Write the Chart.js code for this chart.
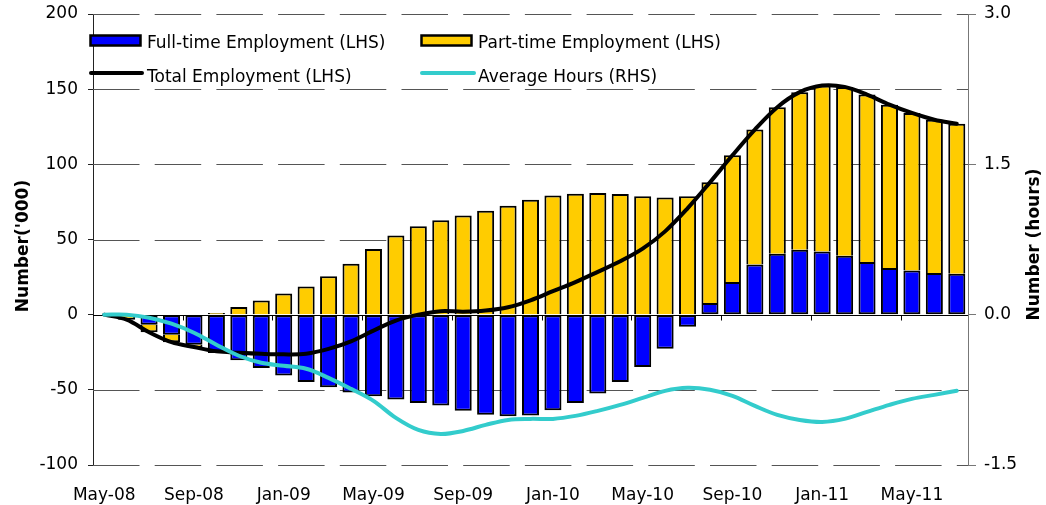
<!DOCTYPE html>
<html><head><meta charset="utf-8">
<script src="https://cdn.jsdelivr.net/npm/chart.js@4.4.1/dist/chart.umd.min.js"></script>
<style>html,body{margin:0;padding:0;background:#fff;} canvas{display:block;}</style>
</head><body>
<canvas id="c" width="1046" height="505"></canvas>
<script>
const months = ['May-08','Jun-08','Jul-08','Aug-08','Sep-08','Oct-08','Nov-08','Dec-08','Jan-09','Feb-09','Mar-09','Apr-09','May-09','Jun-09','Jul-09','Aug-09','Sep-09','Oct-09','Nov-09','Dec-09','Jan-10','Feb-10','Mar-10','Apr-10','May-10','Jun-10','Jul-10','Aug-10','Sep-10','Oct-10','Nov-10','Dec-10','Jan-11','Feb-11','Mar-11','Apr-11','May-11','Jun-11','Jul-11'];
const fullTime = [0, 0, -6.7, -13.3, -20, -25.5, -30.4, -35.5, -40.4, -44.8, -48.3, -51.7, -54.3, -56.5, -58.8, -60.5, -63.9, -66.5, -67.6, -67, -63.6, -58.8, -52.5, -44.8, -34.8, -22.6, -8, 7.8, 21.7, 33.3, 40.6, 43.2, 42.1, 39.2, 35, 31, 29.3, 27.7, 27.3];
const partTime = [0, -3.3, -5, -5, -1.5, 1.1, 5.1, 9.5, 14, 18.8, 25.5, 33.9, 43.7, 52.6, 58.8, 62.8, 65.9, 69.2, 72.5, 76.5, 79.2, 80.5, 81, 80.3, 78.7, 78, 78.7, 80.2, 84.3, 89.8, 97.4, 104.8, 110.3, 112.3, 111.4, 108.7, 104.9, 102, 99.7];
const totalEmp = [0, -3.3, -11.7, -18.3, -21.5, -24.4, -25.3, -26, -26.4, -26, -22.8, -17.8, -10.6, -3.9, 0, 2.3, 2, 2.7, 4.9, 9.5, 15.6, 21.7, 28.5, 35.5, 43.9, 55.4, 70.7, 88, 106, 123.1, 138, 148, 152.4, 151.5, 146.4, 139.7, 134.2, 129.7, 127];
const avgHours = [0, 0, -0.03, -0.09, -0.18, -0.30, -0.41, -0.48, -0.51, -0.54, -0.63, -0.74, -0.86, -1.03, -1.15, -1.19, -1.16, -1.10, -1.05, -1.04, -1.04, -1.01, -0.96, -0.90, -0.83, -0.76, -0.73, -0.75, -0.81, -0.91, -1.00, -1.05, -1.07, -1.04, -0.97, -0.90, -0.84, -0.80, -0.76];
const leftTicks = [-100, -50, 0, 50, 100, 150, 200];
const rightTicks = [-1.5, 0, 1.5, 3.0];
const seriesNames = ['Full-time Employment (LHS)', 'Part-time Employment (LHS)', 'Total Employment (LHS)', 'Average Hours (RHS)'];
const leftTitle = "Number('000)";
const rightTitle = 'Number (hours)';
const xLabelEvery = 4;

const FONT = '"DejaVu Sans", Verdana, sans-serif';
const BLUE = '#0000FF', YELLOW = '#FFCC00', CYAN = '#33CCCC';

const overlay = {
  id: 'overlay',
  beforeDatasetsDraw(chart) {
    const { ctx, chartArea: a, scales: { x, y } } = chart;
    ctx.save();
    ctx.lineWidth = 1;
    leftTicks.forEach(v => {
      const py = Math.round(y.getPixelForValue(v)) + 0.5;
      ctx.beginPath();
      if (v === 0) { ctx.setLineDash([]); ctx.strokeStyle = '#000'; }
      else { ctx.setLineDash([46.5, 15.2]); ctx.strokeStyle = '#555'; }
      ctx.moveTo(a.left, py); ctx.lineTo(a.right, py); ctx.stroke();
    });
    ctx.setLineDash([]);
    ctx.strokeStyle = '#000';
    const y0 = Math.round(y.getPixelForValue(0)) + 0.5;
    const w = (a.right - a.left) / months.length;
    months.forEach((m, i) => {
      if (i % xLabelEvery === 0 && i > 0) {
        const px = Math.round(x.getPixelForValue(i) - w / 2) + 0.5;
        ctx.beginPath(); ctx.moveTo(px, y0); ctx.lineTo(px, y0 + 5); ctx.stroke();
      }
    });
    ctx.restore();
  },
  afterDraw(chart) {
    const { ctx } = chart;
    const ds = chart.data.datasets;
    ctx.save();
    ctx.font = '17px ' + FONT;
    ctx.textBaseline = 'alphabetic';
    ctx.textAlign = 'left';
    const box = (bx, col) => {
      ctx.fillStyle = col; ctx.fillRect(bx, 35.5, 50, 10);
      ctx.lineWidth = 2.5; ctx.strokeStyle = '#000'; ctx.strokeRect(bx, 35.5, 50, 10);
    };
    const line = (x1, x2, col) => {
      ctx.beginPath(); ctx.lineCap = 'round'; ctx.lineWidth = 4; ctx.strokeStyle = col;
      ctx.moveTo(x1, 73); ctx.lineTo(x2, 73); ctx.stroke();
    };
    box(90.5, ds[0].backgroundColor);
    box(421.5, ds[1].backgroundColor);
    line(91, 142, ds[2].borderColor);
    line(422, 474, ds[3].borderColor);
    ctx.fillStyle = '#000';
    ctx.fillText(ds[0].label, 147, 47.5);
    ctx.fillText(ds[1].label, 478, 47.5);
    ctx.fillText(ds[2].label, 147, 81.5);
    ctx.fillText(ds[3].label, 478, 81.5);
    ctx.font = 'bold 17px ' + FONT;
    ctx.textAlign = 'center';
    ctx.textBaseline = 'middle';
    ctx.save(); ctx.translate(24, 246); ctx.rotate(-Math.PI / 2); ctx.fillText(leftTitle, 0, 0); ctx.restore();
    ctx.save(); ctx.translate(1035, 244.5); ctx.rotate(-Math.PI / 2); ctx.fillText(rightTitle, 0, 0); ctx.restore();
    ctx.restore();
  }
};

new Chart(document.getElementById('c'), {
  data: {
    labels: months,
    datasets: [
      { type: 'bar', label: seriesNames[0], data: fullTime, yAxisID: 'y', stack: 's', order: 2,
        backgroundColor: BLUE, borderColor: '#000', borderWidth: 2, borderSkipped: false,
        barPercentage: 0.76, categoryPercentage: 1.0 },
      { type: 'bar', label: seriesNames[1], data: partTime, yAxisID: 'y', stack: 's', order: 3,
        backgroundColor: YELLOW, borderColor: '#000', borderWidth: 2, borderSkipped: 'start',
        barPercentage: 0.76, categoryPercentage: 1.0 },
      { type: 'line', label: seriesNames[2], data: totalEmp, yAxisID: 'y', order: 1,
        borderColor: '#000', backgroundColor: '#000', borderWidth: 4, pointRadius: 0, tension: 0.35,
        borderCapStyle: 'round', fill: false },
      { type: 'line', label: seriesNames[3], data: avgHours, yAxisID: 'y1', order: 0,
        borderColor: CYAN, backgroundColor: CYAN, borderWidth: 4, pointRadius: 0, tension: 0.35,
        borderCapStyle: 'round', fill: false }
    ]
  },
  options: {
    responsive: false,
    animation: false,
    events: [],
    layout: { padding: { top: 14, left: 0, right: 0, bottom: 0 } },
    plugins: { legend: { display: false }, tooltip: { enabled: false } },
    scales: {
      x: {
        stacked: true,
        grid: { display: false },
        border: { display: false },
        ticks: {
          autoSkip: false, maxRotation: 0, minRotation: 0, padding: 12,
          color: '#000', font: { family: FONT, size: 17 },
          callback: (v, i) => (i % xLabelEvery === 0 ? months[i] : '')
        },
        afterFit: s => { s.height = 40; s.paddingLeft = 0; s.paddingRight = 0; }
      },
      y: {
        position: 'left', stacked: true, min: -100, max: 200,
        afterBuildTicks: s => { s.ticks = leftTicks.map(v => ({ value: v })); },
        grid: { drawOnChartArea: false, drawTicks: true, tickLength: 5, color: '#222' },
        border: { display: true, color: '#222', width: 1 },
        ticks: { padding: 10, color: '#000', font: { family: FONT, size: 17 }, callback: v => String(v) },
        afterFit: s => { s.width = 93; s.paddingTop = 0; s.paddingBottom = 0; }
      },
      y1: {
        position: 'right', min: -1.5, max: 3.0,
        afterBuildTicks: s => { s.ticks = rightTicks.map(v => ({ value: v })); },
        grid: { drawOnChartArea: false, drawTicks: true, tickLength: 8, color: '#777' },
        border: { display: true, color: '#777', width: 1 },
        ticks: { padding: 8, color: '#000', font: { family: FONT, size: 17 }, callback: v => Number(v).toFixed(1) },
        afterFit: s => { s.width = 78; s.paddingTop = 0; s.paddingBottom = 0; }
      }
    }
  },
  plugins: [overlay]
});
</script>
</body></html>
